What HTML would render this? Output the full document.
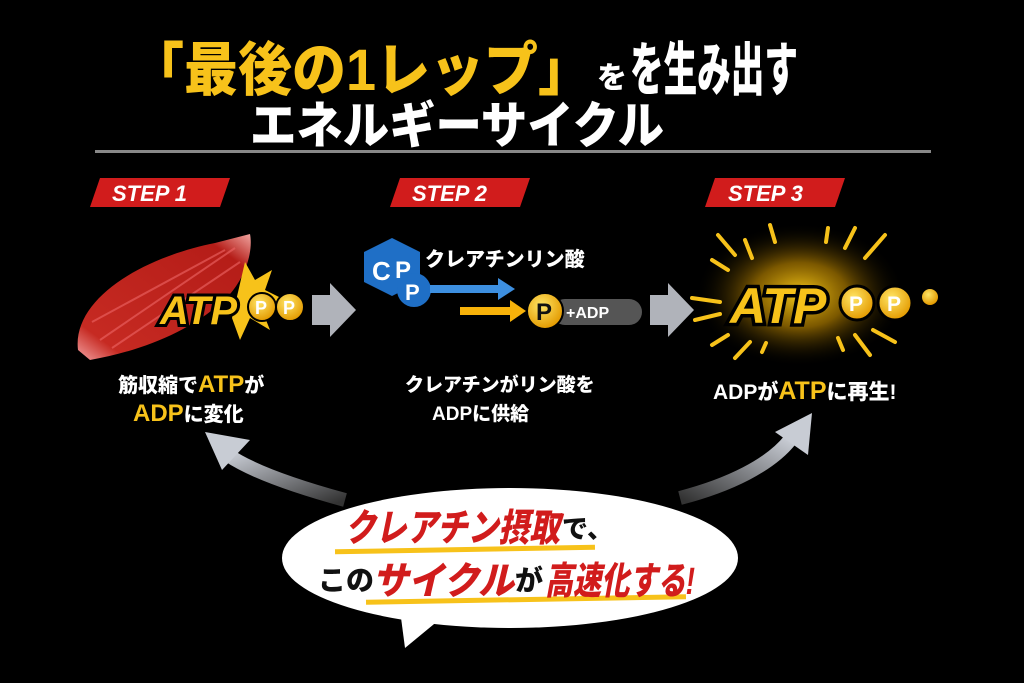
<!DOCTYPE html>
<html><head><meta charset="utf-8"><style>
html,body{margin:0;padding:0;background:#000;}
svg{display:block}
text{font-family:"Liberation Sans","Noto Sans CJK JP",sans-serif;font-weight:900}
</style></head><body>
<svg width="1024" height="683" viewBox="0 0 1024 683" xmlns="http://www.w3.org/2000/svg">
<defs>
<radialGradient id="glow" cx="50%" cy="50%" r="50%">
<stop offset="0" stop-color="#ffd21a" stop-opacity="0.95"/>
<stop offset="0.45" stop-color="#e0a000" stop-opacity="0.55"/>
<stop offset="1" stop-color="#000" stop-opacity="0"/>
</radialGradient>
<radialGradient id="coin" cx="40%" cy="35%" r="65%">
<stop offset="0" stop-color="#ffe566"/><stop offset="1" stop-color="#e39a00"/>
</radialGradient>
<linearGradient id="muscle" x1="0" y1="1" x2="1" y2="0">
<stop offset="0" stop-color="#f3a0a0"/><stop offset="0.15" stop-color="#c62a22"/><stop offset="0.85" stop-color="#b51d18"/><stop offset="1" stop-color="#f0a5a0"/>
</linearGradient>
<linearGradient id="curveL" x1="1" y1="1" x2="0" y2="0">
<stop offset="0" stop-color="#333"/><stop offset="1" stop-color="#c8ccd4"/>
</linearGradient>
<linearGradient id="curveR" x1="0" y1="1" x2="1" y2="0">
<stop offset="0" stop-color="#333"/><stop offset="1" stop-color="#c8ccd4"/>
</linearGradient>
</defs>

<!-- Title -->
<text x="130" y="90" font-size="58" fill="#f7c21a" textLength="462" lengthAdjust="spacingAndGlyphs">「最後の1レップ」</text>
<text x="597" y="88" font-size="30" fill="#fff">を</text>
<text x="630" y="90" font-size="58" fill="#fff" textLength="168" lengthAdjust="spacingAndGlyphs">を生み出す</text>
<text x="250" y="143" font-size="50" fill="#fff" textLength="414" lengthAdjust="spacingAndGlyphs">エネルギーサイクル</text>
<rect x="95" y="150" width="836" height="3" fill="#888"/>

<!-- STEP badges -->
<g>
<polygon points="100,178 230,178 220,207 90,207" fill="#d11c1c"/>
<text x="112" y="201" font-size="22" fill="#fff" font-style="italic">STEP 1</text>
<polygon points="400,178 530,178 520,207 390,207" fill="#d11c1c"/>
<text x="412" y="201" font-size="22" fill="#fff" font-style="italic">STEP 2</text>
<polygon points="715,178 845,178 835,207 705,207" fill="#d11c1c"/>
<text x="728" y="201" font-size="22" fill="#fff" font-style="italic">STEP 3</text>
</g>

<!-- Step1 muscle -->
<path d="M78,350 C72,300 140,258 215,243 L250,234 C254,255 242,285 222,302 C185,335 135,352 90,360 Z" fill="url(#muscle)"/>
<path d="M100,340 L235,248 M112,348 L240,262 M92,322 L225,250" stroke="#e66" stroke-width="2" opacity="0.6"/>
<polygon points="245,262 255,280 272,270 265,290 285,300 262,310 270,330 250,318 240,340 232,318" fill="#f7c21a"/>
<text x="160" y="324" font-size="40" fill="#f7c21a" stroke="#000" stroke-width="6" paint-order="stroke" font-style="italic">ATP</text>
<circle cx="262" cy="307" r="14" fill="url(#coin)" stroke="#000" stroke-width="2"/>
<text x="255" y="314" font-size="18" fill="#fff">P</text>
<circle cx="290" cy="307" r="14" fill="url(#coin)" stroke="#000" stroke-width="2"/>
<text x="283" y="314" font-size="18" fill="#fff">P</text>
<polygon points="312,295 330,295 330,283 356,310 330,337 330,325 312,325" fill="#b0b3ba"/>

<!-- Step2 -->
<polygon points="392,238 420,252 420,282 392,296 364,282 364,252" fill="#1f6fc6"/>
<circle cx="414" cy="290" r="17" fill="#1f6fc6"/>
<text x="372" y="280" font-size="26" fill="#fff">C</text>
<text x="395" y="278" font-size="24" fill="#fff">P</text>
<text x="405" y="300" font-size="22" fill="#fff">P</text>
<text x="425" y="266" font-size="20" fill="#fff">クレアチンリン酸</text>
<rect x="430" y="285" width="70" height="8" fill="#3d8fe0"/>
<polygon points="498,278 515,289 498,300" fill="#3d8fe0"/>
<rect x="460" y="307" width="52" height="8" fill="#f7b20a"/>
<polygon points="510,300 526,311 510,322" fill="#f7b20a"/>
<rect x="552" y="299" width="90" height="26" rx="13" fill="#555"/>
<text x="566" y="318" font-size="16" fill="#fff">+ADP</text>
<circle cx="545" cy="311" r="18" fill="url(#coin)" stroke="#000" stroke-width="2"/>
<text x="536" y="320" font-size="24" fill="#111">P</text>
<polygon points="650,295 668,295 668,283 694,310 668,337 668,325 650,325" fill="#b0b3ba"/>

<!-- Step3 -->
<ellipse cx="800" cy="295" rx="105" ry="72" fill="url(#glow)"/>
<g stroke="#f7c21a" stroke-width="4" stroke-linecap="round">
<line x1="718" y1="235" x2="735" y2="255"/><line x1="745" y1="240" x2="752" y2="258"/>
<line x1="770" y1="225" x2="775" y2="242"/><line x1="828" y1="228" x2="826" y2="242"/>
<line x1="855" y1="228" x2="845" y2="248"/><line x1="885" y1="235" x2="865" y2="258"/>
<line x1="712" y1="260" x2="728" y2="270"/><line x1="692" y1="298" x2="720" y2="302"/>
<line x1="695" y1="320" x2="720" y2="314"/><line x1="712" y1="345" x2="728" y2="335"/>
<line x1="735" y1="358" x2="750" y2="342"/><line x1="762" y1="352" x2="766" y2="343"/>
<line x1="838" y1="338" x2="843" y2="350"/><line x1="855" y1="335" x2="870" y2="355"/>
<line x1="873" y1="330" x2="895" y2="342"/>
</g>
<text x="730" y="323" font-size="50" fill="#f7c21a" stroke="#000" stroke-width="7" paint-order="stroke" font-style="italic">ATP</text>
<circle cx="857" cy="303" r="17" fill="url(#coin)" stroke="#000" stroke-width="3"/>
<text x="849" y="311" font-size="21" fill="#fff">P</text>
<circle cx="895" cy="303" r="17" fill="url(#coin)" stroke="#000" stroke-width="3"/>
<text x="887" y="311" font-size="21" fill="#fff">P</text>
<circle cx="930" cy="297" r="8" fill="url(#coin)"/>

<!-- captions -->
<text x="118" y="392" font-size="20" fill="#fff">筋収縮で<tspan fill="#f7c21a" font-size="24">ATP</tspan>が</text>
<text x="133" y="421" font-size="20" fill="#fff"><tspan fill="#f7c21a" font-size="24">ADP</tspan>に変化</text>
<text x="405" y="391" font-size="19" fill="#fff">クレアチンがリン酸を</text>
<text x="432" y="420" font-size="19" fill="#fff">ADPに供給</text>
<text x="713" y="399" font-size="21" fill="#fff">ADPが<tspan fill="#f7c21a" font-size="25">ATP</tspan>に再生!</text>

<!-- curved arrows -->
<path d="M345,500 C290,485 250,470 228,455" stroke="url(#curveL)" stroke-width="14" fill="none"/>
<polygon points="205,432 250,440 222,470" fill="#c8ccd4"/>
<path d="M680,498 C730,485 770,465 790,440" stroke="url(#curveR)" stroke-width="14" fill="none"/>
<polygon points="812,413 808,455 775,432" fill="#c8ccd4"/>

<!-- bubble -->
<ellipse cx="510" cy="558" rx="228" ry="70" fill="#fff"/>
<polygon points="400,610 445,615 405,648" fill="#fff"/>
<rect x="335" y="547" width="260" height="5" fill="#f7c21a" transform="rotate(-1 465 550)"/>
<rect x="366" y="597" width="320" height="5" fill="#f7c21a" transform="rotate(-1 526 600)"/>
<text x="345" y="541" font-size="38" fill="#d11c1c" font-style="italic" textLength="215" lengthAdjust="spacingAndGlyphs">クレアチン摂取</text>
<text x="562" y="538" font-size="26" fill="#111">で、</text>
<text x="318" y="590" font-size="28" fill="#111">この</text>
<text x="372" y="594" font-size="38" fill="#d11c1c" font-style="italic" textLength="142" lengthAdjust="spacingAndGlyphs">サイクル</text>
<text x="515" y="590" font-size="28" fill="#111">が</text>
<text x="545" y="594" font-size="38" fill="#d11c1c" font-style="italic" textLength="150" lengthAdjust="spacingAndGlyphs">高速化する!</text>
</svg>
</body></html>
